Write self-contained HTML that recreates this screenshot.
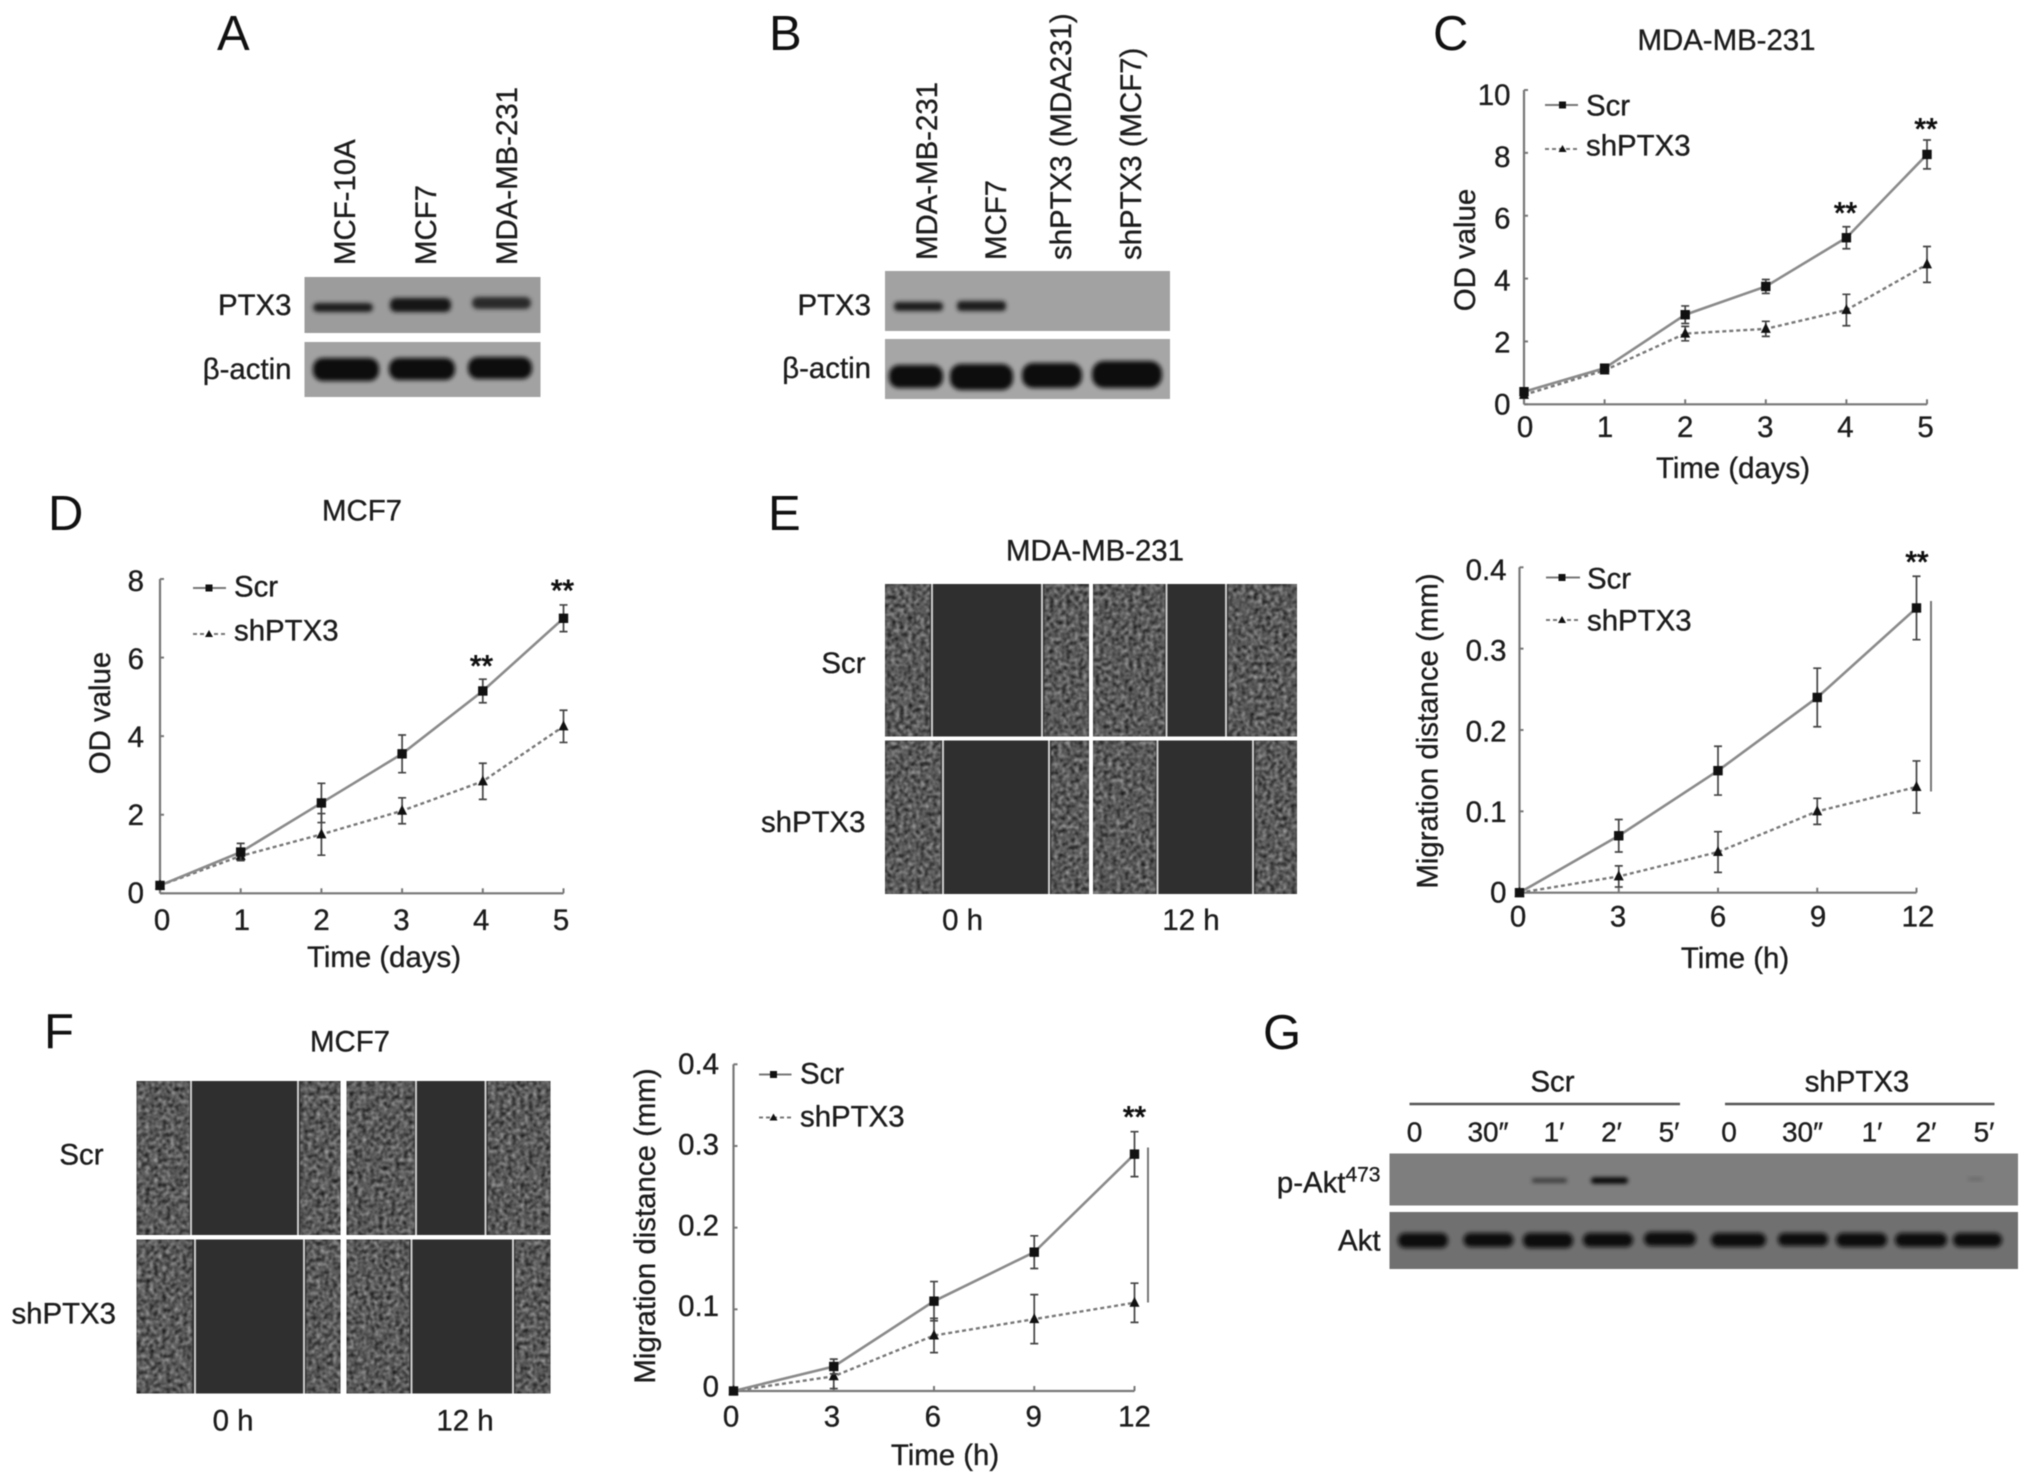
<!DOCTYPE html>
<html lang="en">
<head>
<meta charset="utf-8">
<title>PTX3 figure panels A-G</title>
<style>
html,body{margin:0;padding:0;background:#fff;}
svg{display:block;filter:blur(0.6px);}
text{font-family:"Liberation Sans",Arial,sans-serif;font-size:29.4px;fill:#1c1c1c;stroke:#1c1c1c;stroke-width:0.35px;}
.letter{font-size:49px;fill:#111;stroke-width:0;}
.lab28{font-size:28px;}
.sig{stroke-width:0.9px;fill:#111;stroke:#111;}
</style>
</head>
<body>
<svg xmlns="http://www.w3.org/2000/svg" width="2032" height="1484" viewBox="0 0 2032 1484">
<defs>
<filter id="cells" x="0" y="0" width="100%" height="100%" color-interpolation-filters="sRGB">
<feTurbulence type="fractalNoise" baseFrequency="0.24" numOctaves="3" seed="4"/>
<feColorMatrix type="matrix" values="0.8 0 0 0 -0.05  0.8 0 0 0 -0.05  0.8 0 0 0 -0.05  0 0 0 0 1"/>
<feGaussianBlur stdDeviation="0.9"/>
</filter>
<filter id="bandblur" x="-30%" y="-80%" width="160%" height="260%"><feGaussianBlur stdDeviation="2"/></filter>
</defs>

<!-- Panel A -->
<g>
<text class="letter" x="217" y="50">A</text>
<text transform="translate(355,265) rotate(-90)">MCF-10A</text>
<text transform="translate(436,265) rotate(-90)">MCF7</text>
<text transform="translate(517,265) rotate(-90)">MDA-MB-231</text>
<text x="291.5" y="315" text-anchor="end">PTX3</text>
<text x="291.5" y="379" text-anchor="end">β-actin</text>
<g>
<rect x="304.5" y="277" width="236" height="56" fill="#9c9c9c"/>
<rect x="313" y="303" width="60" height="9" rx="5" fill="#1c1c1c" filter="url(#bandblur)"/>
<rect x="390" y="298" width="61" height="14" rx="6" fill="#161616" filter="url(#bandblur)"/>
<rect x="472" y="297" width="59" height="12" rx="6" fill="#2a2a2a" filter="url(#bandblur)"/>
</g>
<g>
<rect x="304.5" y="342" width="236" height="55" fill="#a2a2a2"/>
<rect x="313" y="358" width="66" height="23" rx="10" fill="#0e0e0e" filter="url(#bandblur)"/>
<rect x="389" y="358" width="66" height="22" rx="10" fill="#0e0e0e" filter="url(#bandblur)"/>
<rect x="468" y="357" width="64" height="22" rx="10" fill="#0e0e0e" filter="url(#bandblur)"/>
</g>
</g>

<!-- Panel B -->
<g>
<text class="letter" x="769" y="50">B</text>
<text transform="translate(937,260) rotate(-90)">MDA-MB-231</text>
<text transform="translate(1006,260) rotate(-90)">MCF7</text>
<text transform="translate(1071,260) rotate(-90)">shPTX3 (MDA231)</text>
<text transform="translate(1141,260) rotate(-90)">shPTX3 (MCF7)</text>
<text x="871" y="315" text-anchor="end">PTX3</text>
<text x="871" y="378" text-anchor="end">β-actin</text>
<g>
<rect x="885" y="271" width="285" height="60" fill="#a2a2a2"/>
<rect x="894" y="302" width="49" height="9" rx="4" fill="#1a1a1a" filter="url(#bandblur)"/>
<rect x="957" y="301" width="49" height="10" rx="4" fill="#1a1a1a" filter="url(#bandblur)"/>
</g>
<g>
<rect x="885" y="339" width="285" height="60" fill="#a6a6a6"/>
<rect x="889" y="365" width="54" height="23" rx="10" fill="#111" filter="url(#bandblur)"/>
<rect x="950" y="364" width="63" height="26" rx="11" fill="#111" filter="url(#bandblur)"/>
<rect x="1022" y="363" width="60" height="25" rx="11" fill="#111" filter="url(#bandblur)"/>
<rect x="1092" y="361" width="70" height="27" rx="12" fill="#111" filter="url(#bandblur)"/>
</g>
</g>

<!-- Panel C -->
<g>
<text class="letter" x="1433" y="50">C</text>
<text x="1726.5" y="50" text-anchor="middle">MDA-MB-231</text>
<text transform="translate(1475,250) rotate(-90)" text-anchor="middle">OD value</text>
<text x="1733" y="478" text-anchor="middle">Time (days)</text>
<g id="chart-c"></g>
<text class="sig" x="1926" y="139" text-anchor="middle">**</text>
<text class="sig" x="1845.5" y="223" text-anchor="middle">**</text>
<g>
<line x1="1545" y1="105" x2="1578" y2="105" stroke="#777" stroke-width="2"/>
<rect x="1559" y="101.5" width="7" height="7" fill="#111"/>
<text x="1586" y="115.5">Scr</text>
<line x1="1545" y1="149" x2="1578" y2="149" stroke="#777" stroke-width="2" stroke-dasharray="4 3"/>
<polygon points="1562.5,145 1566.5,152 1558.5,152" fill="#111"/>
<text x="1586" y="155.5">shPTX3</text>
</g>
</g>

<!-- Panel D -->
<g>
<text class="letter" x="48" y="530">D</text>
<text x="362" y="520.5" text-anchor="middle">MCF7</text>
<text transform="translate(110,713) rotate(-90)" text-anchor="middle">OD value</text>
<text x="384" y="967" text-anchor="middle">Time (days)</text>
<g id="chart-d"></g>
<text class="sig" x="562.5" y="600.5" text-anchor="middle">**</text>
<text class="sig" x="481.5" y="676" text-anchor="middle">**</text>
<g>
<line x1="193" y1="588" x2="226" y2="588" stroke="#777" stroke-width="2"/>
<rect x="205.5" y="584.5" width="7" height="7" fill="#111"/>
<text x="234" y="596.5">Scr</text>
<line x1="193" y1="634" x2="226" y2="634" stroke="#777" stroke-width="2" stroke-dasharray="4 3"/>
<polygon points="209,630 213,637 205,637" fill="#111"/>
<text x="234" y="640.5">shPTX3</text>
</g>
</g>

<!-- Panel E -->
<g>
<text class="letter" x="768" y="530">E</text>
<text x="1095" y="560.5" text-anchor="middle">MDA-MB-231</text>
<text x="865.5" y="673" text-anchor="end">Scr</text>
<text x="865.5" y="832" text-anchor="end">shPTX3</text>
<text x="962.5" y="930" text-anchor="middle">0 h</text>
<text x="1191" y="930" text-anchor="middle">12 h</text>
<g>
<rect x="885" y="584" width="204" height="152.5" fill="#2f2f2f"/>
<rect x="885" y="584" width="45" height="152.5" filter="url(#cells)"/>
<rect x="1044" y="584" width="45" height="152.5" filter="url(#cells)"/>
<line x1="932" y1="584" x2="932" y2="736.5" stroke="#ccc" stroke-width="2"/>
<line x1="1042" y1="584" x2="1042" y2="736.5" stroke="#ccc" stroke-width="2"/>
</g>
<g>
<rect x="1093" y="584" width="204" height="152.5" fill="#2f2f2f"/>
<rect x="1093" y="584" width="72" height="152.5" filter="url(#cells)"/>
<rect x="1228" y="584" width="69" height="152.5" filter="url(#cells)"/>
<line x1="1166.5" y1="584" x2="1166.5" y2="736.5" stroke="#ccc" stroke-width="2"/>
<line x1="1226" y1="584" x2="1226" y2="736.5" stroke="#ccc" stroke-width="2"/>
</g>
<g>
<rect x="885" y="740.5" width="204" height="153.5" fill="#2f2f2f"/>
<rect x="885" y="740.5" width="56" height="153.5" filter="url(#cells)"/>
<rect x="1051" y="740.5" width="38" height="153.5" filter="url(#cells)"/>
<line x1="943" y1="740.5" x2="943" y2="894" stroke="#ccc" stroke-width="2"/>
<line x1="1049" y1="740.5" x2="1049" y2="894" stroke="#ccc" stroke-width="2"/>
</g>
<g>
<rect x="1093" y="740.5" width="204" height="153.5" fill="#2f2f2f"/>
<rect x="1093" y="740.5" width="63" height="153.5" filter="url(#cells)"/>
<rect x="1255" y="740.5" width="42" height="153.5" filter="url(#cells)"/>
<line x1="1157.5" y1="740.5" x2="1157.5" y2="894" stroke="#ccc" stroke-width="2"/>
<line x1="1253" y1="740.5" x2="1253" y2="894" stroke="#ccc" stroke-width="2"/>
</g>
<text transform="translate(1437.5,731) rotate(-90)" text-anchor="middle">Migration distance (mm)</text>
<text x="1735" y="968" text-anchor="middle">Time (h)</text>
<g id="chart-e"></g>
<text class="sig" x="1917" y="572" text-anchor="middle">**</text>
<line x1="1931" y1="601" x2="1931" y2="791.5" stroke="#777" stroke-width="2"/>
<g>
<line x1="1546" y1="577.5" x2="1580" y2="577.5" stroke="#777" stroke-width="2"/>
<rect x="1558.5" y="574" width="7" height="7" fill="#111"/>
<text x="1587" y="588.5">Scr</text>
<line x1="1546" y1="620" x2="1580" y2="620" stroke="#777" stroke-width="2" stroke-dasharray="4 3"/>
<polygon points="1562,616 1566,623 1558,623" fill="#111"/>
<text x="1587" y="630.5">shPTX3</text>
</g>
</g>

<!-- Panel F -->
<g>
<text class="letter" x="44" y="1048">F</text>
<text x="350" y="1051.5" text-anchor="middle">MCF7</text>
<text x="103.5" y="1164.5" text-anchor="end">Scr</text>
<text x="116" y="1323.5" text-anchor="end">shPTX3</text>
<text x="233" y="1430.5" text-anchor="middle">0 h</text>
<text x="465" y="1430.5" text-anchor="middle">12 h</text>
<g>
<rect x="136.5" y="1081" width="204" height="154" fill="#2f2f2f"/>
<rect x="136.5" y="1081" width="53" height="154" filter="url(#cells)"/>
<rect x="300" y="1081" width="40.5" height="154" filter="url(#cells)"/>
<line x1="191" y1="1081" x2="191" y2="1235" stroke="#ccc" stroke-width="2"/>
<line x1="298" y1="1081" x2="298" y2="1235" stroke="#ccc" stroke-width="2"/>
</g>
<g>
<rect x="346.5" y="1081" width="204" height="154" fill="#2f2f2f"/>
<rect x="346.5" y="1081" width="68" height="154" filter="url(#cells)"/>
<rect x="487.5" y="1081" width="63" height="154" filter="url(#cells)"/>
<line x1="416" y1="1081" x2="416" y2="1235" stroke="#ccc" stroke-width="2"/>
<line x1="485.5" y1="1081" x2="485.5" y2="1235" stroke="#ccc" stroke-width="2"/>
</g>
<g>
<rect x="136.5" y="1239.5" width="204" height="154" fill="#2f2f2f"/>
<rect x="136.5" y="1239.5" width="56" height="154" filter="url(#cells)"/>
<rect x="306" y="1239.5" width="34.5" height="154" filter="url(#cells)"/>
<line x1="195" y1="1239.5" x2="195" y2="1393.5" stroke="#ccc" stroke-width="2"/>
<line x1="304" y1="1239.5" x2="304" y2="1393.5" stroke="#ccc" stroke-width="2"/>
</g>
<g>
<rect x="346.5" y="1239.5" width="204" height="154" fill="#2f2f2f"/>
<rect x="346.5" y="1239.5" width="63" height="154" filter="url(#cells)"/>
<rect x="515" y="1239.5" width="35.5" height="154" filter="url(#cells)"/>
<line x1="411.5" y1="1239.5" x2="411.5" y2="1393.5" stroke="#ccc" stroke-width="2"/>
<line x1="513" y1="1239.5" x2="513" y2="1393.5" stroke="#ccc" stroke-width="2"/>
</g>
<text transform="translate(655,1226) rotate(-90)" text-anchor="middle">Migration distance (mm)</text>
<text x="945" y="1465" text-anchor="middle">Time (h)</text>
<g id="chart-f"></g>
<text class="sig" x="1134.5" y="1127" text-anchor="middle">**</text>
<line x1="1148" y1="1147.5" x2="1148" y2="1302.5" stroke="#777" stroke-width="2"/>
<g>
<line x1="759" y1="1074.5" x2="791.5" y2="1074.5" stroke="#777" stroke-width="2"/>
<rect x="770" y="1071" width="7" height="7" fill="#111"/>
<text x="800" y="1083.5">Scr</text>
<line x1="759" y1="1117.5" x2="791.5" y2="1117.5" stroke="#777" stroke-width="2" stroke-dasharray="4 3"/>
<polygon points="773.5,1113.5 777.5,1120.5 769.5,1120.5" fill="#111"/>
<text x="800" y="1126.5">shPTX3</text>
</g>
</g>

<!-- Panel G -->
<g>
<text class="letter" x="1263" y="1049">G</text>
<text x="1552.5" y="1091.5" text-anchor="middle">Scr</text>
<text x="1857" y="1091.5" text-anchor="middle">shPTX3</text>
<line x1="1409.5" y1="1104" x2="1680" y2="1104" stroke="#555" stroke-width="2.5"/>
<line x1="1725" y1="1104" x2="1994.5" y2="1104" stroke="#555" stroke-width="2.5"/>
<g>
<text class="lab28" x="1414.5" y="1141.5" text-anchor="middle">0</text>
<text class="lab28" x="1488" y="1141.5" text-anchor="middle">30″</text>
<text class="lab28" x="1554" y="1141.5" text-anchor="middle">1′</text>
<text class="lab28" x="1611.5" y="1141.5" text-anchor="middle">2′</text>
<text class="lab28" x="1669" y="1141.5" text-anchor="middle">5′</text>
<text class="lab28" x="1729" y="1141.5" text-anchor="middle">0</text>
<text class="lab28" x="1802.5" y="1141.5" text-anchor="middle">30″</text>
<text class="lab28" x="1872" y="1141.5" text-anchor="middle">1′</text>
<text class="lab28" x="1926" y="1141.5" text-anchor="middle">2′</text>
<text class="lab28" x="1984" y="1141.5" text-anchor="middle">5′</text>
</g>
<text x="1380.5" y="1192.5" text-anchor="end">p-Akt<tspan dy="-11" font-size="21">473</tspan></text>
<text x="1380.5" y="1250.5" text-anchor="end">Akt</text>
<g>
<rect x="1389.5" y="1153.5" width="628.5" height="52" fill="#7e7e7e"/>
<rect x="1532" y="1178.5" width="35" height="4" rx="2" fill="#333" filter="url(#bandblur)"/>
<rect x="1591" y="1177.5" width="37" height="6" rx="3" fill="#050505" filter="url(#bandblur)"/>
<rect x="1968" y="1177.5" width="15" height="3" rx="1.5" fill="#666" filter="url(#bandblur)"/>
</g>
<g>
<rect x="1389.5" y="1212" width="628.5" height="57" fill="#707070"/>
<rect x="1398" y="1233" width="50" height="15" rx="7" fill="#0f0f0f" filter="url(#bandblur)"/>
<rect x="1463.5" y="1233" width="50" height="14" rx="7" fill="#0f0f0f" filter="url(#bandblur)"/>
<rect x="1523" y="1233" width="50" height="15" rx="7" fill="#0f0f0f" filter="url(#bandblur)"/>
<rect x="1583" y="1233" width="50" height="14" rx="7" fill="#0f0f0f" filter="url(#bandblur)"/>
<rect x="1644" y="1232" width="52" height="14" rx="7" fill="#0f0f0f" filter="url(#bandblur)"/>
<rect x="1711" y="1233" width="55" height="14" rx="7" fill="#0f0f0f" filter="url(#bandblur)"/>
<rect x="1778" y="1233" width="50" height="13" rx="6" fill="#0f0f0f" filter="url(#bandblur)"/>
<rect x="1836" y="1233" width="51" height="14" rx="7" fill="#0f0f0f" filter="url(#bandblur)"/>
<rect x="1895" y="1233" width="52" height="14" rx="7" fill="#0f0f0f" filter="url(#bandblur)"/>
<rect x="1953" y="1233" width="49" height="14" rx="7" fill="#0f0f0f" filter="url(#bandblur)"/>
</g>
</g>
</svg>

<script>
/* Panel C: MDA-MB-231 growth */
const daysTicks = [0, 1, 2, 3, 4, 5];
const cYTicks = [0, 2, 4, 6, 8, 10];
const cYLabels = ['0', '2', '4', '6', '8', '10'];
const cScr = [0.4, 1.15, 2.85, 3.75, 5.3, 7.95];
const cScrErr = [0.12, 0.12, 0.28, 0.22, 0.35, 0.46];
const cSh = [0.3, 1.08, 2.25, 2.4, 3.0, 4.45];
const cShErr = [0.1, 0.1, 0.23, 0.24, 0.5, 0.57];

/* Panel D: MCF7 growth */
const dYTicks = [0, 2, 4, 6, 8];
const dYLabels = ['0', '2', '4', '6', '8'];
const dScr = [0.2, 1.05, 2.3, 3.55, 5.15, 7.0];
const dScrErr = [0.08, 0.22, 0.5, 0.48, 0.3, 0.34];
const dSh = [0.2, 0.95, 1.5, 2.1, 2.85, 4.25];
const dShErr = [0.08, 0.1, 0.53, 0.33, 0.46, 0.41];

/* Panels E and F: migration */
const hoursTicks = [0, 3, 6, 9, 12];
const migYTicks = [0, 0.1, 0.2, 0.3, 0.4];
const migYLabels = ['0', '0.1', '0.2', '0.3', '0.4'];
const eScr = [0, 0.07, 0.15, 0.24, 0.35];
const eScrErr = [0, 0.02, 0.03, 0.036, 0.039];
const eSh = [0, 0.02, 0.05, 0.1, 0.13];
const eShErr = [0, 0.013, 0.025, 0.016, 0.032];
const fScr = [0, 0.03, 0.11, 0.17, 0.29];
const fScrErr = [0, 0.009, 0.024, 0.02, 0.0275];
const fSh = [0, 0.018, 0.068, 0.088, 0.108];
const fShErr = [0, 0.015, 0.021, 0.03, 0.024];

const NS = 'http://www.w3.org/2000/svg';

function make(parent, tag, attrs) {
  const el = document.createElementNS(NS, tag);
  for (const k in attrs) el.setAttribute(k, attrs[k]);
  parent.appendChild(el);
  return el;
}

function drawSeries(g, ts, vals, errs, x, y, dashed) {
  const pts = ts.map(function (t, i) { return x(t) + ',' + y(vals[i]); }).join(' ');
  const line = make(g, 'polyline', {
    points: pts, fill: 'none',
    stroke: dashed ? '#777' : '#8a8a8a',
    'stroke-width': dashed ? 2.4 : 2.6,
    'stroke-dasharray': dashed ? '4 3' : 'none'
  });
  
  

  ts.forEach(function (t, i) {
    const cx = x(t), top = y(vals[i] + errs[i]), bot = y(vals[i] - errs[i]);
    const err = make(g, 'path', {
      d: 'M' + cx + ' ' + top + 'V' + bot + 'M' + (cx - 4) + ' ' + top + 'H' + (cx + 4) + 'M' + (cx - 4) + ' ' + bot + 'H' + (cx + 4),
      fill: 'none', stroke: '#444', 'stroke-width': 1.7
    });
    
    

    const cy = y(vals[i]);
    let mark;
    if (dashed) {
      mark = make(g, 'polygon', {
        points: cx + ',' + (cy - 6) + ' ' + (cx + 5) + ',' + (cy + 4) + ' ' + (cx - 5) + ',' + (cy + 4),
        fill: '#111'
      });
      
    } else {
      mark = make(g, 'rect', { x: cx - 4.7, y: cy - 4.7, width: 9.4, height: 9.4, fill: '#111' });
      
    }
    
  });
}

function drawChart(c) {
  const g = document.getElementById(c.id);
  const tMax = c.xTicks[c.xTicks.length - 1];
  const vMax = c.yTicks[c.yTicks.length - 1];
  const x = function (t) { return c.x0 + t / tMax * (c.x1 - c.x0); };
  const y = function (v) { return c.y0 - v / vMax * (c.y0 - c.y1); };

  const yAxis = make(g, 'line', { x1: c.x0, y1: c.y1, x2: c.x0, y2: c.y0, stroke: '#777', 'stroke-width': 2.2 });
  
  

  const xAxis = make(g, 'line', { x1: c.x0, y1: c.y0, x2: c.x1, y2: c.y0, stroke: '#777', 'stroke-width': 2.2 });
  
  

  c.yTicks.forEach(function (v, i) {
    const tick = make(g, 'line', { x1: c.x0, y1: y(v), x2: c.x0 + 4, y2: y(v), stroke: '#777', 'stroke-width': 2 });
    
    
    const frac = v / vMax;
    const label = make(g, 'text', {
      x: c.yLabelRight,
      y: y(v) + c.yLabelDyBottom + (c.yLabelDyTop - c.yLabelDyBottom) * frac,
      'text-anchor': 'end'
    });
    label.textContent = c.yLabels[i];
    
    
  });

  c.xTicks.forEach(function (t) {
    const tick = make(g, 'line', { x1: x(t), y1: c.y0, x2: x(t), y2: c.y0 - 5, stroke: '#777', 'stroke-width': 2 });
    
    
    const frac = t / tMax;
    const label = make(g, 'text', {
      x: x(t) + c.xShiftLeft + (c.xShiftRight - c.xShiftLeft) * frac,
      y: c.xLabelBaseline,
      'text-anchor': 'middle'
    });
    label.textContent = String(t);
    
    
  });

  drawSeries(g, c.xTicks, c.sh, c.shErr, x, y, true);
  drawSeries(g, c.xTicks, c.scr, c.scrErr, x, y, false);
}

drawChart({ id: 'chart-c', x0: 1524, x1: 1927, y0: 404.3, y1: 90, xTicks: daysTicks, yTicks: cYTicks, yLabels: cYLabels,
  scr: cScr, scrErr: cScrErr, sh: cSh, shErr: cShErr, yLabelRight: 1510.5, yLabelDyBottom: 10, yLabelDyTop: 15,
  xLabelBaseline: 437, xShiftLeft: 1, xShiftRight: -1.5 });
drawChart({ id: 'chart-d', x0: 160, x1: 563.5, y0: 893.3, y1: 579, xTicks: daysTicks, yTicks: dYTicks, yLabels: dYLabels,
  scr: dScr, scrErr: dScrErr, sh: dSh, shErr: dShErr, yLabelRight: 144, yLabelDyBottom: 9.5, yLabelDyTop: 12,
  xLabelBaseline: 930, xShiftLeft: 2, xShiftRight: -2.5 });
drawChart({ id: 'chart-e', x0: 1519.5, x1: 1916.5, y0: 892.7, y1: 567.3, xTicks: hoursTicks, yTicks: migYTicks, yLabels: migYLabels,
  scr: eScr, scrErr: eScrErr, sh: eSh, shErr: eShErr, yLabelRight: 1506.5, yLabelDyBottom: 10, yLabelDyTop: 12.7,
  xLabelBaseline: 926.5, xShiftLeft: -1.5, xShiftRight: 1.5 });
drawChart({ id: 'chart-f', x0: 733.5, x1: 1134.5, y0: 1391, y1: 1064.3, xTicks: hoursTicks, yTicks: migYTicks, yLabels: migYLabels,
  scr: fScr, scrErr: fScrErr, sh: fSh, shErr: fShErr, yLabelRight: 719, yLabelDyBottom: 5.7, yLabelDyTop: 9.7,
  xLabelBaseline: 1426.5, xShiftLeft: -2.5, xShiftRight: 0 });
</script>
</body>
</html>
